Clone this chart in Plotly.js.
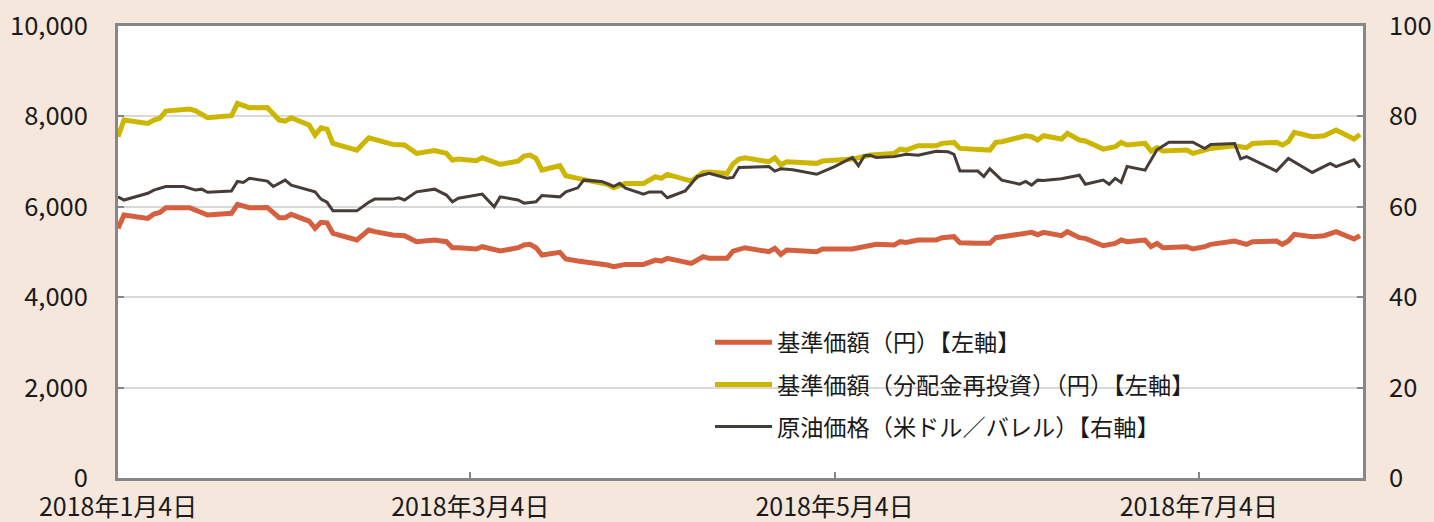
<!DOCTYPE html>
<html><head><meta charset="utf-8">
<script src="https://cdn.plot.ly/plotly-3.0.1.min.js"></script>
<style>html,body{margin:0;padding:0;background:#F5E7DB;}#chart{width:1434px;height:522px;}</style>
</head><body><div id="chart"></div>
<script>
const fundDates = ['2018-01-04','2018-01-05','2018-01-09','2018-01-10','2018-01-11','2018-01-12','2018-01-16','2018-01-17','2018-01-19','2018-01-23','2018-01-24','2018-01-26','2018-01-29','2018-01-31','2018-02-01','2018-02-02','2018-02-05','2018-02-06','2018-02-07','2018-02-08','2018-02-09','2018-02-13','2018-02-15','2018-02-16','2018-02-19','2018-02-21','2018-02-23','2018-02-26','2018-02-28','2018-03-01','2018-03-02','2018-03-05','2018-03-06','2018-03-09','2018-03-12','2018-03-13','2018-03-14','2018-03-15','2018-03-16','2018-03-19','2018-03-20','2018-03-22','2018-03-26','2018-03-27','2018-03-28','2018-03-30','2018-04-02','2018-04-04','2018-04-05','2018-04-06','2018-04-10','2018-04-12','2018-04-13','2018-04-16','2018-04-17','2018-04-18','2018-04-19','2018-04-23','2018-04-24','2018-04-25','2018-04-26','2018-05-01','2018-05-02','2018-05-07','2018-05-10','2018-05-11','2018-05-14','2018-05-15','2018-05-16','2018-05-18','2018-05-21','2018-05-22','2018-05-24','2018-05-25','2018-05-28','2018-05-30','2018-05-31','2018-06-01','2018-06-05','2018-06-06','2018-06-07','2018-06-08','2018-06-11','2018-06-12','2018-06-14','2018-06-15','2018-06-18','2018-06-20','2018-06-21','2018-06-22','2018-06-25','2018-06-26','2018-06-27','2018-06-28','2018-07-02','2018-07-03','2018-07-05','2018-07-06','2018-07-10','2018-07-12','2018-07-13','2018-07-17','2018-07-18','2018-07-19','2018-07-20','2018-07-23','2018-07-25','2018-07-27','2018-07-30','2018-07-31'];

const navValues = [5523,5818,5744,5840,5877,5979,5979,5928,5818,5855,6054,5979,5986,5759,5759,5833,5685,5523,5656,5645,5413,5265,5486,5450,5375,5360,5228,5265,5228,5095,5095,5066,5117,5021,5095,5154,5169,5095,4933,4992,4844,4800,4749,4712,4675,4726,4726,4822,4800,4859,4749,4896,4859,4859,5020,5066,5095,5006,5081,4948,5044,5006,5066,5066,5154,5169,5154,5228,5213,5265,5265,5317,5339,5206,5191,5191,5317,5339,5435,5435,5383,5435,5361,5450,5317,5302,5139,5191,5265,5228,5265,5117,5191,5095,5117,5066,5117,5169,5243,5169,5228,5243,5169,5243,5391,5339,5361,5450,5287,5361];

const reinvValues = [7550,7919,7845,7919,7956,8118,8162,8125,7971,8015,8288,8192,8199,7919,7897,7971,7809,7587,7749,7720,7403,7255,7528,7491,7381,7366,7182,7245,7182,7034,7056,7019,7085,6938,7012,7123,7145,7071,6813,6909,6687,6629,6518,6496,6422,6518,6518,6665,6629,6717,6569,6762,6769,6739,6950,7056,7085,6997,7085,6924,6997,6961,7012,7056,7145,7160,7182,7277,7255,7351,7351,7403,7425,7292,7255,7255,7425,7440,7572,7550,7477,7572,7499,7624,7477,7455,7277,7329,7425,7366,7403,7233,7307,7233,7255,7182,7255,7292,7351,7307,7403,7425,7366,7440,7646,7550,7572,7698,7499,7602];

const oilDates = ['2018-01-04','2018-01-05','2018-01-09','2018-01-10','2018-01-12','2018-01-15','2018-01-17','2018-01-18','2018-01-19','2018-01-23','2018-01-24','2018-01-25','2018-01-26','2018-01-29','2018-01-30','2018-02-01','2018-02-02','2018-02-06','2018-02-07','2018-02-08','2018-02-09','2018-02-13','2018-02-15','2018-02-16','2018-02-19','2018-02-20','2018-02-21','2018-02-23','2018-02-26','2018-02-28','2018-03-01','2018-03-02','2018-03-06','2018-03-08','2018-03-09','2018-03-12','2018-03-13','2018-03-15','2018-03-16','2018-03-19','2018-03-20','2018-03-22','2018-03-23','2018-03-26','2018-03-28','2018-03-29','2018-03-30','2018-04-02','2018-04-03','2018-04-05','2018-04-06','2018-04-09','2018-04-11','2018-04-13','2018-04-16','2018-04-17','2018-04-18','2018-04-23','2018-04-24','2018-04-25','2018-04-27','2018-05-01','2018-05-04','2018-05-07','2018-05-08','2018-05-09','2018-05-10','2018-05-11','2018-05-14','2018-05-16','2018-05-18','2018-05-21','2018-05-23','2018-05-24','2018-05-25','2018-05-28','2018-05-29','2018-05-30','2018-06-01','2018-06-04','2018-06-05','2018-06-06','2018-06-07','2018-06-08','2018-06-11','2018-06-14','2018-06-15','2018-06-18','2018-06-19','2018-06-20','2018-06-21','2018-06-22','2018-06-25','2018-06-27','2018-06-29','2018-07-03','2018-07-05','2018-07-06','2018-07-10','2018-07-11','2018-07-12','2018-07-17','2018-07-19','2018-07-23','2018-07-26','2018-07-27','2018-07-30','2018-07-31'];

const oilValues = [62.2,61.5,63.0,63.7,64.5,64.5,63.7,63.9,63.2,63.5,65.6,65.4,66.3,65.7,64.5,65.9,64.8,63.3,61.7,61.0,59.1,59.1,61.0,61.7,61.7,62.0,61.5,63.3,63.9,62.6,61.1,61.9,62.8,60.0,62.2,61.5,60.8,61.1,62.5,62.2,63.3,64.2,65.9,65.6,64.5,65.2,64.1,62.8,63.3,63.3,62.0,63.5,66.7,67.4,66.3,66.5,68.7,68.9,67.9,68.4,68.2,67.2,68.9,70.9,69.1,71.3,71.4,70.9,71.1,71.6,71.4,72.3,72.2,71.6,67.9,67.9,66.7,68.4,65.9,65.0,65.6,64.8,65.9,65.8,66.2,67.0,65.0,65.9,65.0,66.3,65.4,68.9,68.1,72.6,74.3,74.3,72.9,73.8,74.0,70.6,71.1,67.9,70.7,67.6,69.6,68.9,70.4,68.7];

const seriesNames = ['基準価額（円）【左軸】','基準価額（分配金再投資）（円）【左軸】','原油価格（米ドル／バレル）【右軸】'];
const xTickDates = ['2018-01-04','2018-03-04','2018-05-04','2018-07-04'];
const xTickLabels = ['2018年1月4日','2018年3月4日','2018年5月4日','2018年7月4日'];
const leftTicks = [0,2000,4000,6000,8000,10000];
const rightTicks = [0,20,40,60,80,100];

const AX = '#878787';
const traces = [
  {x: fundDates, y: navValues, name: seriesNames[0], type:'scatter', mode:'lines', line:{color:'#D4603F', width:5}, legendgroup:'a'},
  {x: fundDates, y: reinvValues, name: seriesNames[1], type:'scatter', mode:'lines', line:{color:'#CDB600', width:5}, legendgroup:'b'},
  {x: oilDates, y: oilValues, name: seriesNames[2], type:'scatter', mode:'lines', yaxis:'y2', line:{color:'#463D38', width:3}, legendgroup:'c'}
];

const layout = {
  width:1434, height:522,
  paper_bgcolor:'#F5E7DB', plot_bgcolor:'#FFFFFF',
  margin:{l:118, r:71, t:26, b:44, pad:0},
  font:{family:'"Noto Sans CJK JP", "Noto Sans", sans-serif', size:25, color:'#1a1a1a'},
  showlegend:true,
  xaxis:{type:'date', range:['2018-01-04','2018-07-31 12:00'], tickvals:xTickDates, ticktext:xTickLabels,
    ticks:'inside', ticklen:6, tickwidth:2, tickcolor:AX, showline:true, linecolor:AX, linewidth:3, mirror:true,
    showgrid:false, zeroline:false, ticklabelstandoff:5, tickfont:{size:25}},
  yaxis:{range:[0,10000], tickvals:leftTicks, tickformat:',d', ticks:'inside', ticklen:6, tickwidth:2, tickcolor:AX,
    showline:true, linecolor:AX, linewidth:3, showgrid:true, gridcolor:'#D9D9D9', gridwidth:2, zeroline:false,
    ticklabelstandoff:22, tickfont:{size:25.5}},
  yaxis2:{range:[0,100], tickvals:rightTicks, overlaying:'y', side:'right', ticks:'inside', ticklen:6, tickwidth:2, tickcolor:AX,
    showline:true, linecolor:AX, linewidth:3, showgrid:false, zeroline:false, ticklabelstandoff:18, tickfont:{size:25.5}},
  legend:{x:0.4755, y:0.348, xanchor:'left', yanchor:'top', bgcolor:'rgba(0,0,0,0)', borderwidth:0,
    font:{size:23.2, color:'#1a1a1a'}, itemwidth:57, tracegroupgap:9, traceorder:'grouped'},
  shapes:[{type:'rect', xref:'paper', yref:'paper', x0:0.367, x1:0.968, y0:0.06, y1:0.33, fillcolor:'#FFFFFF', line:{width:0}, layer:'between'}]
};

Plotly.newPlot('chart', traces, layout, {staticPlot:true, displayModeBar:false});
</script>
</body></html>
